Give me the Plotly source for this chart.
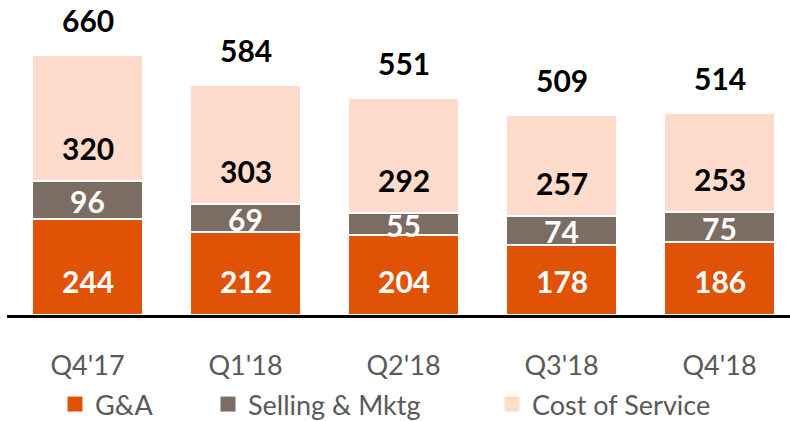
import plotly.graph_objects as go

quarters = ["Q4'17", "Q1'18", "Q2'18", "Q3'18", "Q4'18"]
ga = [244, 212, 204, 178, 186]
selling = [96, 69, 55, 74, 75]
cost = [320, 303, 292, 257, 253]
totals = [660, 584, 551, 509, 514]

series_names = ["G&A", "Selling & Mktg", "Cost of Service"]
colors = ["#E05206", "#7B6C64", "#FEDBCA"]

FONT = "Lato"
fig = go.Figure()
for name, vals, col in zip(series_names, [ga, selling, cost], colors):
    fig.add_trace(go.Bar(
        x=quarters, y=vals, name=name, marker=dict(color=col, line=dict(color="white", width=2)),
        width=0.70, showlegend=False, hoverinfo="x+y+name"))

legend_ids = ["legend", "legend2", "legend3"]
legend_x = [55, 208, 492]
for name, col, lid in zip(series_names, colors, legend_ids):
    fig.add_trace(go.Scatter(
        x=[None], y=[None], mode="markers", name=name, legend=lid,
        marker=dict(symbol="square", size=15, color=col)))

annotations = []
num_font_w = dict(family=FONT, size=30, color="white")
num_font_b = dict(family=FONT, size=30, color="black")
for i, q in enumerate(quarters):
    annotations.append(dict(x=q, y=0, text=f"<b>{ga[i]}</b>", showarrow=False,
                            yanchor="middle", yshift=34, font=num_font_w))
    annotations.append(dict(x=q, y=ga[i] + selling[i] / 2, text=f"<b>{selling[i]}</b>", showarrow=False,
                            yanchor="middle", yshift=-1, font=num_font_w))
    annotations.append(dict(x=q, y=ga[i] + selling[i], text=f"<b>{cost[i]}</b>", showarrow=False,
                            yanchor="middle", yshift=33, font=num_font_b))
    annotations.append(dict(x=q, y=totals[i], text=f"<b>{totals[i]}</b>", showarrow=False,
                            yanchor="middle", yshift=35, font=num_font_b))

legend_common = dict(orientation="h", xref="container", yref="container", yanchor="top",
                     xanchor="left", y=(421 - 380) / 421, bgcolor="rgba(0,0,0,0)",
                     font=dict(family=FONT, size=27, color="#595959"), itemsizing="trace")
layout_legends = {}
for lid, lx in zip(legend_ids, legend_x):
    layout_legends[lid] = dict(legend_common, x=lx / 790)

fig.update_layout(
    width=790, height=421,
    margin=dict(l=7, r=0, t=0, b=106, autoexpand=False),
    barmode="stack",
    plot_bgcolor="white", paper_bgcolor="white",
    showlegend=True,
    xaxis=dict(type="category", range=[-0.5095, 4.4462], showline=True, linecolor="black",
               linewidth=3, ticks="", showgrid=False, zeroline=False, automargin=False,
               tickfont=dict(family=FONT, size=27, color="#595959"), ticklabelstandoff=25),
    yaxis=dict(range=[0, 800], visible=False, showgrid=False, zeroline=False, automargin=False),
    annotations=annotations,
    **layout_legends,
)

fig.write_html("out.html", config={"displayModeBar": False},
               post_script="document.body.style.margin='0px';")
